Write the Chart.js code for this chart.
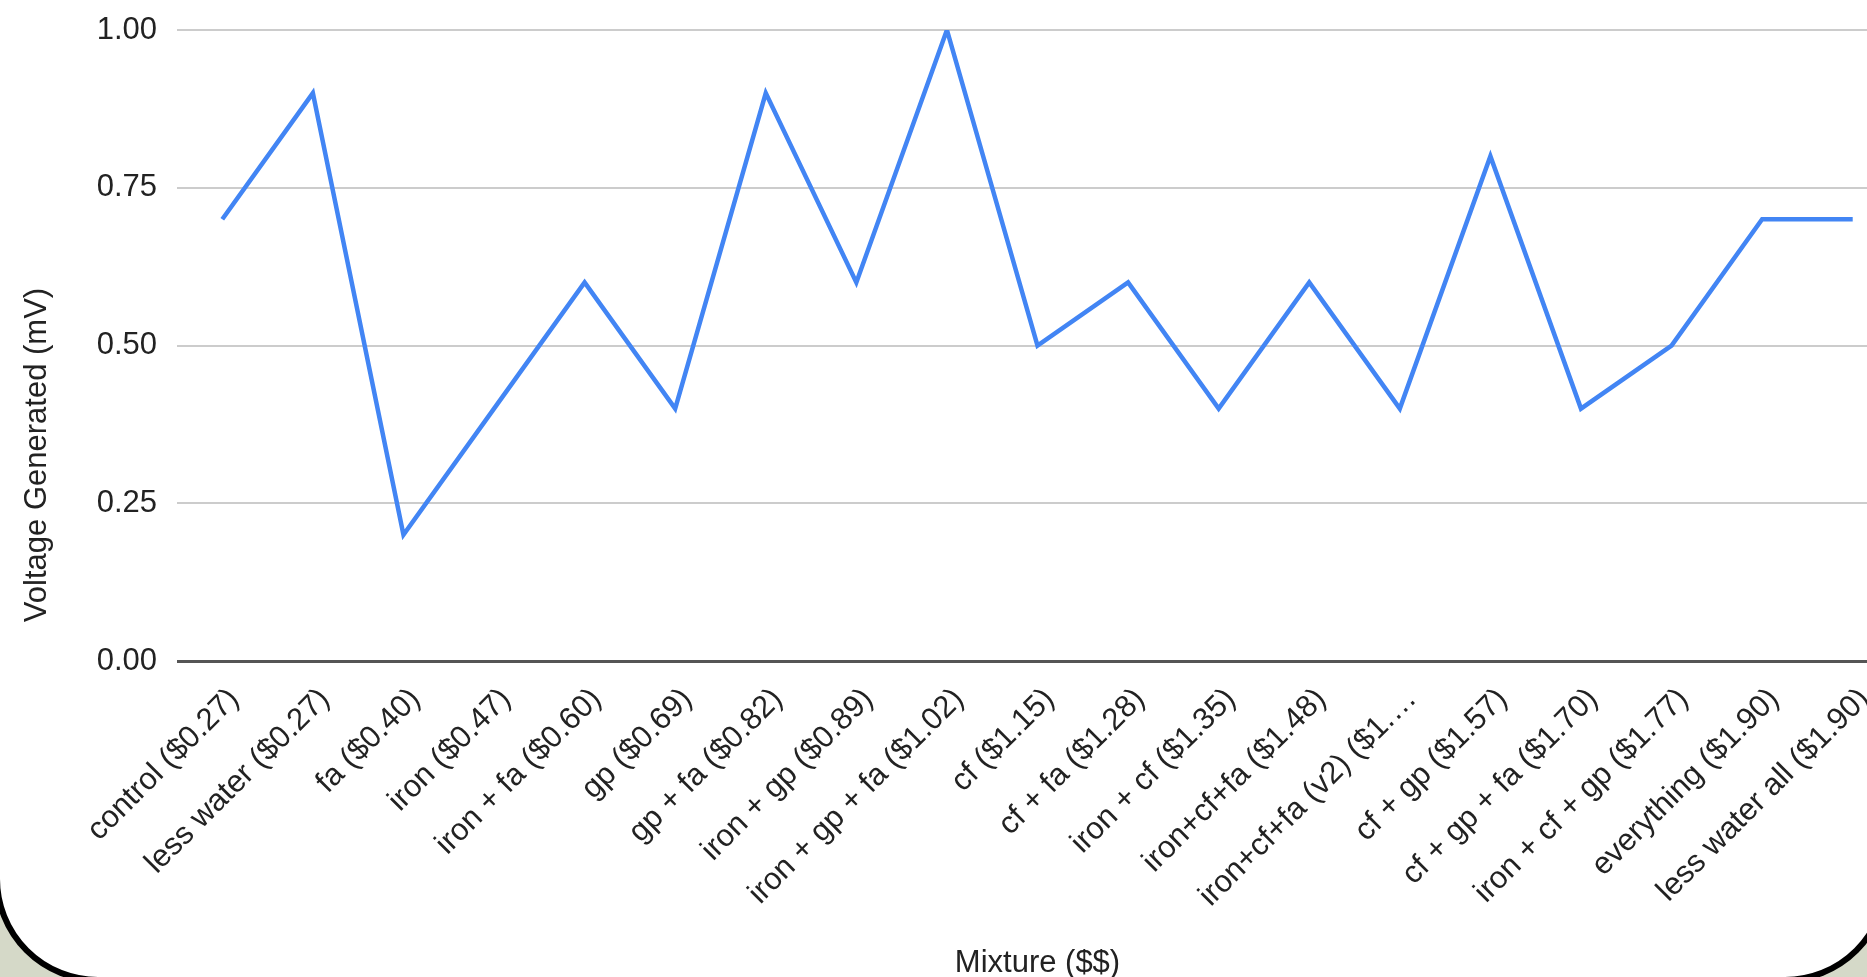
<!DOCTYPE html>
<html>
<head>
<meta charset="utf-8">
<script src="https://cdn.jsdelivr.net/npm/chart.js@4.4.1/dist/chart.umd.min.js"></script>
<style>
  html, body { margin: 0; padding: 0; width: 1867px; height: 977px; overflow: hidden; background: #d5d9c8; }
  #frame {
    position: absolute; left: -6px; top: -300px; width: 1895px; height: 1283px;
    background: #fff; border: 6px solid #000; border-radius: 104px; box-sizing: border-box;
  }
  #chart { position: absolute; left: 0; top: 0; }
</style>
</head>
<body>
<div id="frame"></div>
<canvas id="chart" width="1920" height="977"></canvas>
<script>
// data
const mixtures = [
  'control ($0.27)', 'less water ($0.27)', 'fa ($0.40)', 'iron ($0.47)',
  'iron + fa ($0.60)', 'gp ($0.69)', 'gp + fa ($0.82)', 'iron + gp ($0.89)',
  'iron + gp + fa ($1.02)', 'cf ($1.15)', 'cf + fa ($1.28)', 'iron + cf ($1.35)',
  'iron+cf+fa ($1.48)', 'iron+cf+fa (v2) ($1.…', 'cf + gp ($1.57)', 'cf + gp + fa ($1.70)',
  'iron + cf + gp ($1.77)', 'everything ($1.90)', 'less water all ($1.90)'
];
const voltage = [0.70, 0.90, 0.20, 0.40, 0.60, 0.40, 0.90, 0.60, 1.00, 0.50, 0.60, 0.40, 0.60, 0.40, 0.80, 0.40, 0.50, 0.70, 0.70];
const yTicks = [0, 0.25, 0.5, 0.75, 1];

const FONT = 'Arial, "Liberation Sans", sans-serif';

// y axis title sits lower than the plot middle, so draw it by hand
const yTitle = {
  id: 'yTitle',
  afterDraw(chart) {
    const c = chart.ctx;
    c.save();
    c.translate(37, 455);
    c.rotate(-Math.PI / 2);
    c.font = '31px ' + FONT;
    c.fillStyle = '#222';
    c.textAlign = 'center';
    c.textBaseline = 'middle';
    c.fillText('Voltage Generated (mV)', 0, 0);
    c.restore();
  }
};

const ctx = document.getElementById('chart').getContext('2d');
new Chart(ctx, {
  type: 'line',
  data: {
    labels: mixtures,
    datasets: [{
      data: voltage,
      borderColor: '#4285f4',
      borderWidth: 4.5,
      pointRadius: 0,
      tension: 0,
      fill: false
    }]
  },
  options: {
    responsive: false,
    animation: false,
    devicePixelRatio: 1,
    layout: { padding: { top: 30, right: 22, bottom: 0, left: 0 } },
    plugins: { legend: { display: false }, tooltip: { enabled: false } },
    scales: {
      x: {
        offset: true,
        grid: { display: false, drawTicks: false },
        border: { display: false },
        ticks: {
          autoSkip: false, minRotation: 45, maxRotation: 45,
          padding: 20, labelOffset: 12, color: '#222', font: { family: FONT, size: 31 }
        },
        title: {
          display: true, text: 'Mixture ($$)', color: '#222',
          font: { family: FONT, size: 31 }, padding: { top: 0, bottom: -5 }
        },
        afterFit(scale) { scale.height = 316; }
      },
      y: {
        min: 0, max: 1,
        afterBuildTicks(scale) { scale.ticks = yTicks.map(v => ({ value: v })); },
        grid: {
          drawTicks: false,
          color: c => c.tick && c.tick.value === 0 ? '#555' : '#ccc',
          lineWidth: c => c.tick && c.tick.value === 0 ? 3 : 2
        },
        border: { display: false },
        ticks: {
          padding: 20, color: '#222', font: { family: FONT, size: 31 },
          callback: v => v.toFixed(2)
        },
        afterFit(scale) {
          scale.width = 177;
          scale.paddingTop = 0;
          scale.paddingBottom = 0;
        }
      }
    }
  },
  plugins: [yTitle]
});
</script>
</body>
</html>
